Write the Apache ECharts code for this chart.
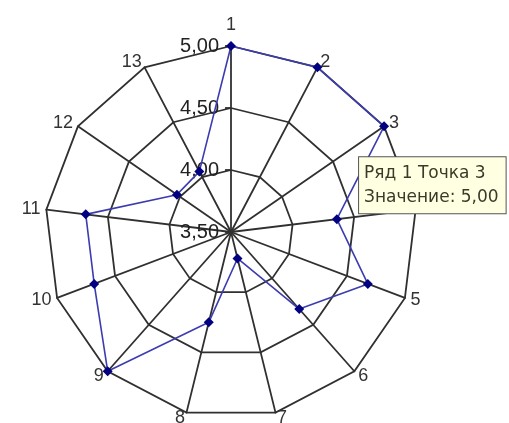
<!DOCTYPE html>
<html>
<head>
<meta charset="utf-8">
<script src="https://cdn.jsdelivr.net/npm/echarts@6/dist/echarts.min.js"></script>
<style>
  html, body { margin: 0; padding: 0; background: #fff; }
  #chart { width: 509px; height: 423px; }
</style>
</head>
<body>
<div id="chart"></div>
<script>
// Point names, clockwise from the top
const pointNames = ['1', '2', '3', '4', '5', '6', '7', '8', '9', '10', '11', '12', '13'];
// Values of "Ряд 1"
const seriesValues = [5.0, 5.0, 5.0, 4.36, 4.68, 4.33, 3.72, 4.25, 5.0, 4.68, 4.68, 4.03, 4.05];
// Value scale
const scaleMin = 3.5;
const scaleMax = 5.0;
const scaleSteps = 3;
const seriesName = 'Ряд 1';
const highlightIndex = 2; // "Точка 3"

const fmt = v => v.toFixed(2).replace('.', ',');

// ECharts lays radar indicators out counter-clockwise; reorder so they run clockwise.
const order = [0].concat(pointNames.map((_, i) => i).slice(1).reverse());

const indicators = order.map((idx, k) => {
  const ind = {
    name: pointNames[idx],
    min: scaleMin,
    max: scaleMax,
    axisLabel: { show: k === 0 },
    axisTick: { show: k === 0 }
  };
  if (k === 0) ind.nameGap = 12;
  return ind;
});
const orderedValues = order.map(idx => seriesValues[idx]);
const highlightPos = order.indexOf(highlightIndex);

const chart = echarts.init(document.getElementById('chart'), null, { renderer: 'canvas' });
chart.setOption({
  animation: false,
  backgroundColor: '#ffffff',
  radar: {
    indicator: indicators,
    center: [231, 232],
    radius: 186,
    startAngle: 90,
    shape: 'polygon',
    splitNumber: scaleSteps,
    nameGap: 6,
    axisName: {
      color: '#333333',
      fontSize: 18,
      fontFamily: 'Liberation Sans, Arial, sans-serif'
    },
    splitLine: { lineStyle: { color: '#303030', width: 1.8 } },
    splitArea: { show: false },
    axisLine: { lineStyle: { color: '#303030', width: 1.8 } },
    axisTick: { show: true, length: 6, lineStyle: { color: '#303030', width: 1.8 } },
    axisLabel: {
      show: true,
      color: '#222222',
      fontSize: 20,
      fontFamily: 'Liberation Sans, Arial, sans-serif',
      margin: 12,
      formatter: v => fmt(v)
    }
  },
  series: [{
    type: 'radar',
    name: seriesName,
    symbol: 'diamond',
    symbolSize: 10,
    lineStyle: { color: '#3c3cb0', width: 1.6 },
    itemStyle: { color: '#000080' },
    data: [{
      value: orderedValues,
      name: seriesName
    }]
  }]
});

// Hover-style note pinned below the highlighted point
const layout = chart.getModel().getSeriesByIndex(0).getData().getItemLayout(0);
const pt = layout[highlightPos];
chart.setOption({
  graphic: [{
    type: 'text',
    z: 100,
    x: pt[0] - 25,
    y: pt[1] + 31,
    style: {
      text: seriesName + ' Точка ' + (highlightIndex + 1) + '\nЗначение: ' + fmt(orderedValues[highlightPos]),
      fill: '#3a3a2a',
      fontSize: 17,
      fontFamily: 'DejaVu Sans, Tahoma, sans-serif',
      lineHeight: 24,
      backgroundColor: '#ffffe1',
      borderColor: '#555555',
      borderWidth: 1,
      padding: [4, 7, 4, 5]
    }
  }]
});
</script>
</body>
</html>
